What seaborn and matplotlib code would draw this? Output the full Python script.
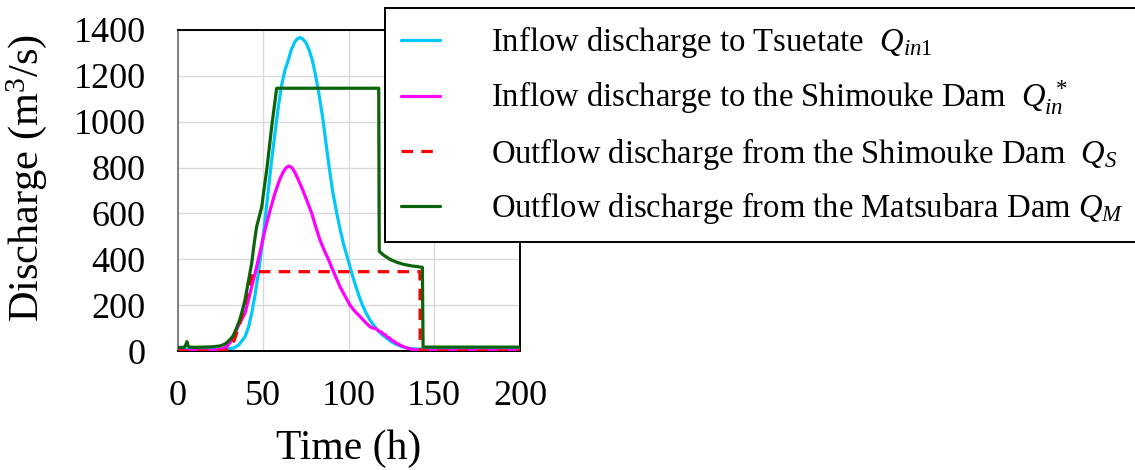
import matplotlib
matplotlib.use("Agg")
import matplotlib.pyplot as plt
import seaborn as sns
import pandas as pd

# ---------------- data ----------------
t_in1 = [0, 10, 20, 28, 33, 36, 39.4, 41.5, 43.3, 45.3, 47.2, 49.2, 51.1, 53, 55, 57,
         58.9, 60.8, 62.8, 64.7, 66.5, 68.5, 70, 71.5, 73, 75, 77, 78.7, 80.3, 82.2,
         83.7, 85.1, 86.8, 88.6, 90.5, 93, 95, 97, 99.5, 101.5, 104, 106, 108, 110,
         112, 114, 116, 118, 120, 122.3, 125, 128, 131, 134, 138, 145, 200]
q_in1 = [8, 8, 8, 9, 13, 28, 62, 105, 164, 245, 339, 450, 571, 700, 833, 955,
         1066, 1160, 1226, 1269, 1315, 1348, 1362, 1367, 1362, 1345, 1310, 1269, 1215, 1138,
         1070, 1000, 900, 800, 700, 600, 530, 465, 400, 346, 285, 240, 200, 168,
         140, 118, 98, 82, 68, 55, 40, 28, 19, 13, 9, 8, 7]

t_in_star = [0, 10, 20, 26, 29, 31.6, 34, 36.5, 39.4, 42.3, 45.3, 48.2, 51.1, 54, 56.9,
             59.5, 61.8, 63.5, 65.1, 66.8, 68.5, 70.6, 73, 75.4, 78.4, 80.8, 83.2, 85.6,
             88.1, 90, 92.5, 94.9, 97.8, 100.7, 103.6, 106.6, 109.5, 112.4, 114.2, 116.5,
             117.5, 119, 120.2, 121.5, 122.3, 123.5, 125, 128, 130, 132.5, 135.8, 140, 145, 200]
q_in_star = [2, 2, 3, 8, 20, 48, 85, 125, 164, 250, 339, 432, 528, 612, 688,
             745, 782, 800, 807, 800, 780, 746, 705, 659, 600, 540, 484, 440,
             400, 365, 322, 280, 240, 200, 173, 150, 127, 106, 100, 95,
             86, 83, 74, 70, 61, 58, 48, 34, 26, 17, 9, 4, 2, 2]

t_s = [0, 28, 30, 33, 36, 38, 40, 42, 44.3, 141.6, 141.7, 200]
q_s = [0, 0, 15, 45, 110, 160, 225, 290, 346, 346, 0, 0]

t_m = [0, 4, 5, 5.5, 6.2, 7, 10, 15, 20, 24.8, 27.7, 30, 32.4, 34.5, 36.5, 38, 39.4,
       41.3, 43.3, 44.8, 46.2, 47.7, 49.2, 50.6, 52.1, 53.5, 55, 56.5, 57.9, 117.5,
       117.8, 120, 124, 128, 132, 136, 140, 143.0, 143.4, 200]
q_m = [15, 16, 30, 41, 22, 17, 16, 17, 18, 22, 30, 45, 65, 100, 140, 180, 222,
       300, 382, 470, 542, 585, 629, 710, 789, 880, 978, 1065, 1146, 1146,
       435, 420, 400, 387, 378, 372, 368, 365, 17, 17]

x_ticks = [0, 50, 100, 150, 200]
y_ticks = [0, 200, 400, 600, 800, 1000, 1200, 1400]

labels = [
    r"Inflow discharge to Tsuetate  $Q_{in1}$",
    r"Inflow discharge to the Shimouke Dam  $Q_{in}^{\ *}$",
    r"Outflow discharge from the Shimouke Dam  $Q_S$",
    r"Outflow discharge from the Matsubara Dam $Q_M$",
]
colors = ["#00c8f8", "#ff00ff", "#ff0000", "#0b640b"]

# ---------------- style ----------------
sns.set_style("white")
plt.rcParams['font.family'] = ['Liberation Serif', 'DejaVu Serif']
plt.rcParams['mathtext.fontset'] = 'custom'
plt.rcParams['mathtext.rm'] = 'Liberation Serif'
plt.rcParams['mathtext.it'] = 'Liberation Serif:italic'
plt.rcParams['mathtext.bf'] = 'Liberation Serif:bold'
for k in ["text.color", "axes.labelcolor", "xtick.color", "ytick.color"]:
    plt.rcParams[k] = "black"

fig = plt.figure(figsize=(11.35, 4.70), dpi=100)
ax = fig.add_axes([177.5 / 1135, 1 - 351 / 470, 342.5 / 1135, 321 / 470])

series = [(t_in1, q_in1), (t_in_star, q_in_star), (t_s, q_s), (t_m, q_m)]
for i, ((tt, qq), lab, col) in enumerate(zip(series, labels, colors)):
    df = pd.DataFrame({"t": tt, "q": qq})
    kw = dict(linewidth=2.3)
    if i == 2:
        kw["linestyle"] = (0, (3.6, 2.6))
    sns.lineplot(data=df, x="t", y="q", ax=ax, color=col, label=lab,
                 estimator=None, sort=False, zorder=3 + i, **kw)

ax.set_xlim(0, 200)
ax.set_ylim(0, 1400)
ax.set_xticks(x_ticks)
ax.set_yticks(y_ticks)
ax.grid(True, color="#d9d9d9", linewidth=1.0)
ax.set_axisbelow(True)
ax.tick_params(axis="both", length=0, labelsize=26, colors="black")
ax.tick_params(axis="y", pad=23.0)
ax.tick_params(axis="x", pad=21.0)

for s in ["top", "right", "bottom"]:
    ax.spines[s].set_color("black")
    ax.spines[s].set_linewidth(1.4)
ax.spines["left"].set_color("#808080")
ax.spines["left"].set_linewidth(1.4)

ax.set_xlabel("Time (h)", fontsize=30, color="black")
ax.set_ylabel("Discharge (m$^{3}$/s)", fontsize=30.5, color="black")
ax.xaxis.set_label_coords(0.5, -0.245)
ax.yaxis.set_label_coords(-0.375, 0.54)

leg = ax.legend(loc="upper left", bbox_to_anchor=(385 / 1135, 1 - 8 / 470),
                bbox_transform=fig.transFigure, frameon=True, fancybox=False,
                framealpha=1, edgecolor="black", fontsize=23.5,
                handlelength=1.2, handletextpad=1.55, labelspacing=0.56,
                borderpad=0.5, borderaxespad=0)
leg.get_frame().set_linewidth(1.4)
leg.set_zorder(20)
for txt in leg.get_texts():
    txt.set_color("black")

fig.savefig("out.png", dpi=100)
